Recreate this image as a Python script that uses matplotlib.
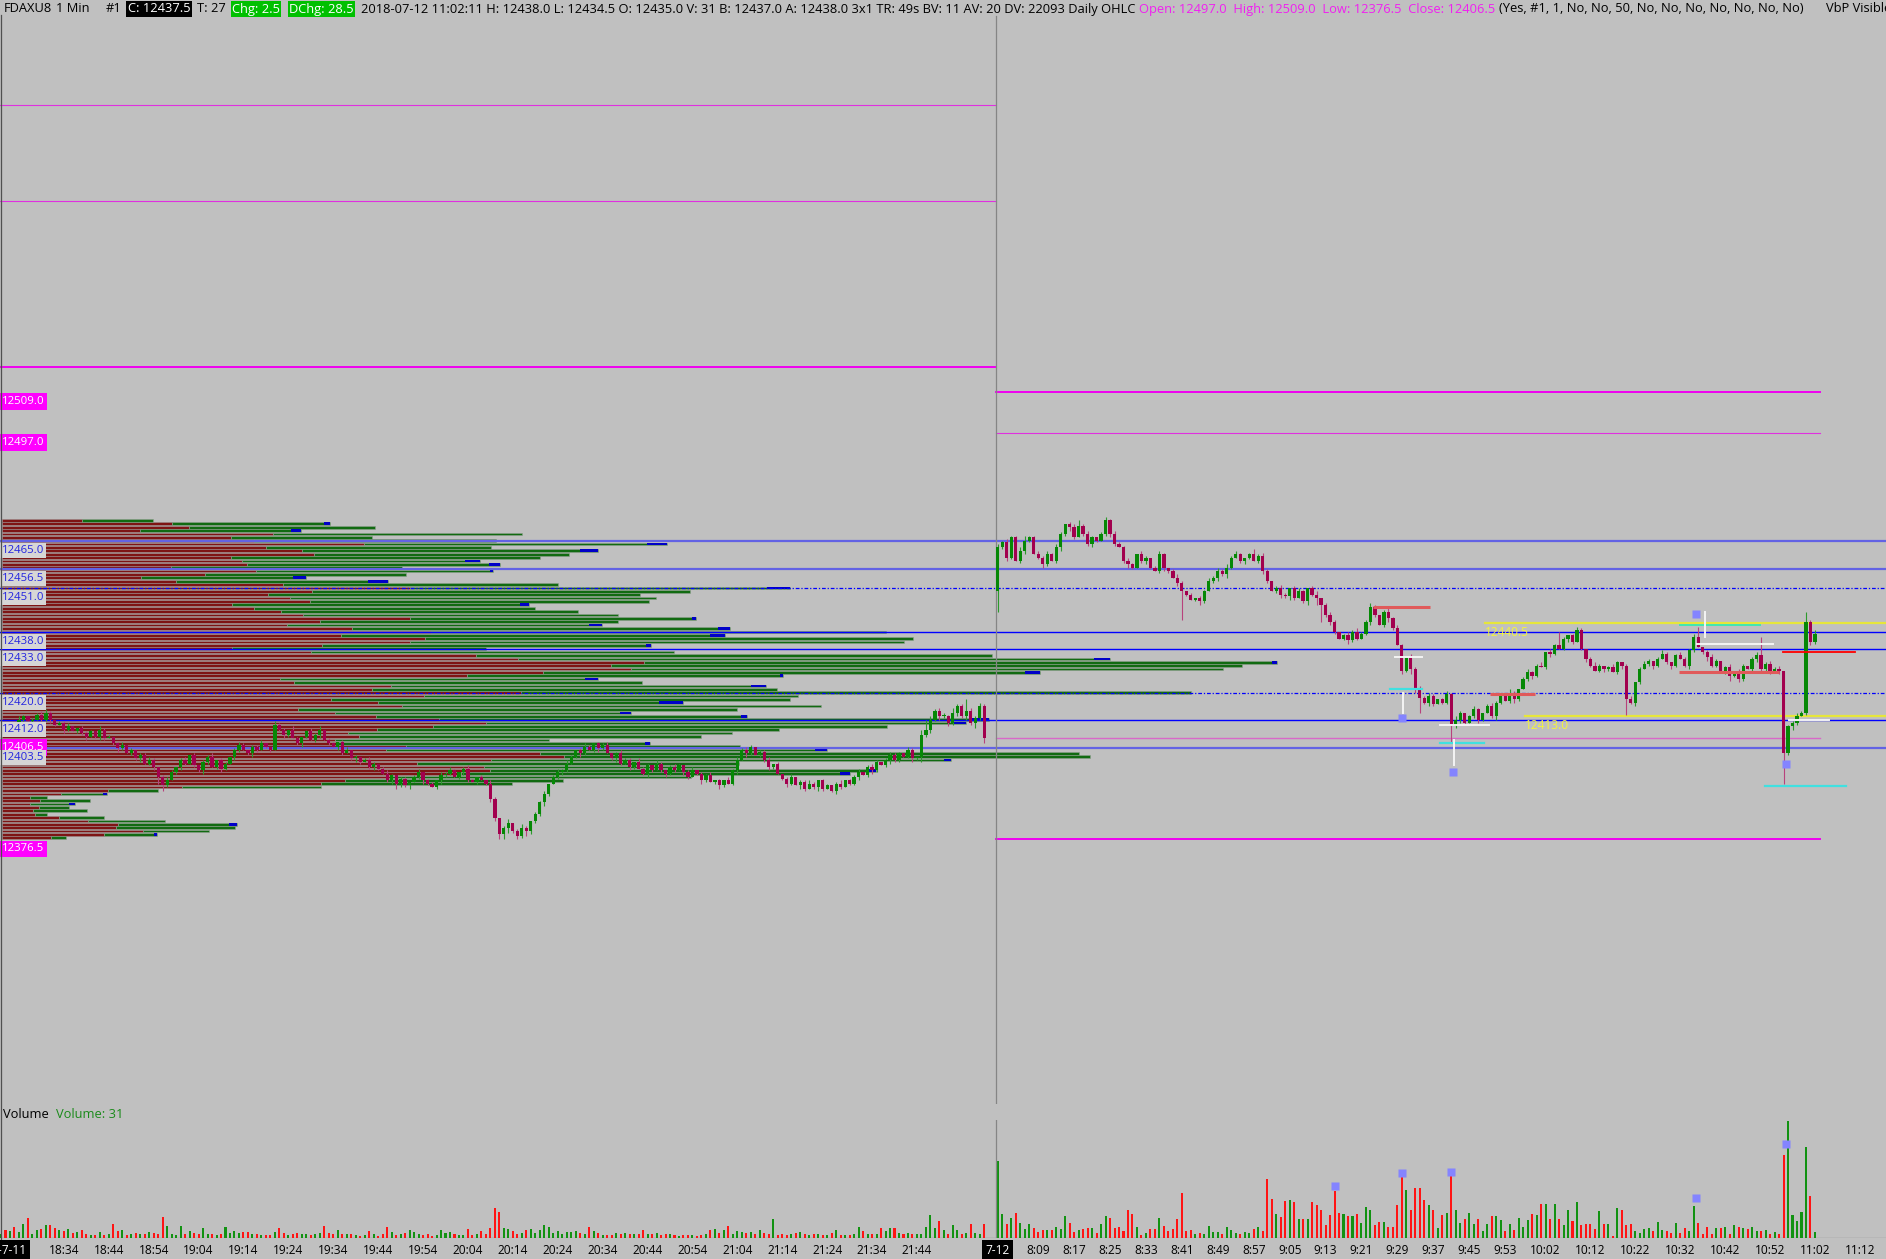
import matplotlib
matplotlib.use('Agg')
import matplotlib.pyplot as plt
import matplotlib.transforms as mtransforms
from matplotlib.lines import Line2D
import numpy as np

plt.rcParams['font.family'] = ['Open Sans', 'DejaVu Sans']

#=============================================
#   1. data

# prior session 7-11, one candle per minute from 18:20
left_open0 = 12409.0
left_close = [
    12410, 12409.5, 12411, 12410, 12412, 12413, 12411.5, 12412, 12413.5, 12412,
    12414, 12412, 12410.5, 12411, 12409, 12410, 12408.5, 12409.5, 12408, 12407,
    12408.5, 12407, 12409, 12406.5, 12407, 12405, 12403.5, 12404.5, 12402, 12403,
    12400.5, 12401.5, 12399, 12400, 12398, 12395, 12392.5, 12394, 12396.5, 12398,
    12400, 12399, 12401.5, 12398.5, 12397, 12399.5, 12401, 12398, 12400, 12397.5,
    12399, 12401, 12403, 12404.5, 12403, 12402, 12404, 12403, 12405, 12404,
    12403, 12410.5, 12409, 12407.5, 12409, 12406.5, 12405, 12407, 12408.5, 12406,
    12407.5, 12409, 12406, 12405, 12404, 12405.5, 12402, 12403, 12400.5, 12401,
    12399.5, 12400, 12398, 12399, 12397.5, 12396, 12394, 12395.5, 12393, 12394.5,
    12392.5, 12393.5, 12395, 12396.5, 12394, 12393, 12392, 12394, 12395.5, 12396,
    12397, 12395, 12396.5, 12397.5, 12394, 12393.5, 12395, 12394, 12393, 12388.5,
    12383, 12378, 12380, 12381.5, 12379, 12377.5, 12380, 12379, 12382, 12384,
    12387.5, 12390, 12393, 12395, 12396.5, 12397, 12399, 12401, 12403, 12402,
    12404, 12403, 12405, 12403.5, 12404.5, 12402, 12400.5, 12402, 12399, 12400,
    12398, 12399.5, 12397.5, 12396, 12398.5, 12397, 12399, 12397, 12396, 12398,
    12397, 12398.5, 12396.5, 12395, 12397, 12396, 12394, 12395.5, 12393.5, 12394,
    12392.5, 12394, 12393, 12397, 12400, 12403, 12402, 12404, 12401.5, 12402.5,
    12400, 12398, 12399, 12396, 12394.5, 12393, 12395, 12392.5, 12393.5, 12391.5,
    12393, 12392, 12394, 12391.5, 12392.5, 12391, 12393, 12392, 12394, 12393,
    12395, 12396.5, 12395.5, 12398, 12397, 12399.5, 12398.5, 12400, 12401.5, 12400,
    12402, 12401, 12403, 12400.5, 12401, 12407.5, 12409, 12412, 12414.5, 12413,
    12413, 12411, 12414, 12416, 12413, 12414.5, 12411, 12412.5, 12416, 12406.5,
]
# wick lengths in half points, one char per candle (base 36)
left_up = ("1201210112 2101120011 1021101201 0112101210 1201011201 1012101120 "
           "0211021012 1201101201 0121012101 1012011021 2101210102 1012012101 "
           "1201212101 2101120121 1021102101 2101201120 1021212101 1201012011 "
           "2101101201 1201210121 1021036212 2131172121")
left_dn = ("1021012101 1210210112 0121012101 1201243101 2101121012 1021012101 "
           "1012101210 1201021012 1012101232 1201210121 1012101012 2333121321 "
           "1210121012 1012101210 2101210121 1021012101 2101202101 1210121021 "
           "0121012101 1201210121 1012131212 1212121313")

# session 7-12, one candle per minute from 8:00
right_open0 = 12450.0
right_close = [
    12463, 12464.5, 12460, 12466, 12459, 12462, 12465, 12466, 12461, 12460,
    12458, 12461, 12459, 12463, 12467, 12470, 12469, 12466, 12469.5, 12467,
    12464, 12466, 12465, 12467, 12471, 12467, 12464, 12463, 12459, 12458,
    12457, 12461, 12459, 12460, 12457, 12456, 12461, 12457, 12456, 12454,
    12452.5, 12450, 12449, 12447.5, 12448, 12447, 12450, 12453, 12454, 12456,
    12455, 12457, 12460, 12461, 12459, 12460, 12461, 12459, 12460.5, 12456,
    12453, 12450, 12451, 12449, 12448.5, 12451, 12448, 12450, 12447, 12451,
    12449, 12448, 12446, 12443, 12441, 12438, 12436, 12437, 12435.5, 12438,
    12436, 12437.5, 12441, 12445.5, 12443, 12440, 12444, 12442, 12439, 12434,
    12426.5, 12430.5, 12427, 12421, 12418.5, 12417, 12419, 12416.5, 12418, 12417,
    12419.5, 12410, 12412, 12414, 12411, 12413, 12415, 12412, 12414, 12416,
    12413, 12417, 12419, 12417.5, 12420, 12418, 12421, 12424, 12426, 12425,
    12428, 12427.5, 12432, 12431.5, 12434, 12433, 12436, 12437, 12435, 12438.5,
    12433, 12430, 12428, 12426.5, 12428, 12427, 12427.5, 12426, 12429, 12428,
    12418, 12417, 12423, 12427, 12428.5, 12429.5, 12428, 12430, 12431.5, 12429,
    12428, 12431, 12430, 12428, 12432.5, 12436.5, 12433.5, 12432, 12430.5, 12428,
    12429.5, 12426, 12427.5, 12425, 12426, 12424, 12428, 12427, 12430, 12431,
    12427, 12428.5, 12426, 12427, 12426.5, 12402, 12410, 12411, 12413, 12414,
    12441, 12435, 12437.5,
]
right_up = ("2121123112 1212101231 2101212112 1021012101 2101011212 1212101312 "
            "1012101210 1201210121 2112101212 1021212101 2121012101 2101210121 "
            "1202181012 1012101210 1201210121 0121126012 1012121012 b121201121 612")
right_dn = ("c121012101 2101212101 1210121012 1012101210 2h10121012 1210121012 "
            "1012121012 14a1210121 1012101210 2132912101 1912101210 1210121012 "
            "1012101210 1210121012 9121012101 2101210121 1013121012 12102i1210 121")

# volume per candle (panel units)
vol_left = [
    10, 22, 20, 33, 18, 40, 60, 12, 22, 25, 37, 37, 28, 22, 20, 27, 15, 18, 22, 10,
    8, 8, 18, 8, 12, 40, 20, 22, 8, 10, 15, 12, 10, 16, 14, 10, 62, 35, 10, 8,
    35, 10, 20, 15, 12, 30, 12, 10, 8, 10, 32, 15, 20, 15, 18, 18, 10, 12, 8, 8,
    8, 18, 30, 15, 8, 12, 15, 10, 10, 8, 10, 15, 35, 15, 10, 22, 12, 10, 12, 8,
    5, 8, 20, 10, 6, 12, 32, 18, 8, 10, 15, 22, 18, 12, 8, 10, 5, 8, 22, 15,
    18, 10, 8, 8, 27, 8, 10, 20, 10, 28, 90, 78, 28, 25, 20, 12, 15, 22, 25, 15,
    22, 38, 33, 15, 20, 12, 18, 18, 20, 15, 10, 32, 20, 15, 8, 8, 8, 15, 12, 15,
    12, 10, 12, 22, 10, 12, 15, 8, 10, 10, 8, 6, 8, 8, 8, 6, 8, 10, 22, 25,
    15, 22, 35, 12, 20, 18, 15, 18, 12, 22, 15, 12, 55, 8, 10, 8, 12, 15, 18, 10,
    8, 12, 10, 8, 8, 15, 22, 8, 8, 8, 12, 32, 20, 12, 10, 10, 30, 20, 28, 30,
    15, 12, 15, 10, 12, 12, 33, 68, 28, 50, 22, 12, 38, 22, 10, 15, 40, 15, 10, 42,
]
vol_right = [
    229, 72, 42, 58, 75, 45, 27, 42, 28, 17, 22, 22, 22, 32, 25, 64, 43, 17, 22, 25,
    30, 30, 14, 40, 64, 60, 30, 32, 20, 82, 70, 32, 8, 15, 27, 25, 60, 35, 20, 27,
    55, 135, 20, 22, 10, 15, 10, 34, 17, 17, 12, 32, 22, 14, 12, 17, 15, 25, 32, 20,
    175, 117, 72, 62, 110, 113, 107, 57, 55, 55, 108, 97, 82, 38, 67, 140, 75, 72, 65, 65,
    70, 45, 92, 82, 37, 48, 48, 32, 32, 97, 190, 142, 82, 148, 148, 112, 97, 82, 30, 67,
    75, 185, 82, 45, 57, 75, 42, 57, 20, 40, 65, 65, 52, 20, 40, 22, 60, 32, 52, 72,
    67, 100, 100, 57, 102, 57, 37, 82, 50, 107, 37, 40, 42, 27, 80, 42, 42, 5, 90, 82,
    37, 40, 20, 15, 25, 30, 20, 47, 22, 20, 15, 45, 15, 30, 20, 95, 45, 12, 32, 10,
    30, 30, 32, 10, 37, 32, 30, 27, 32, 20, 20, 22, 10, 17, 12, 249, 349, 67, 50, 77,
    272, 125, 17,
]
vol_sq_j = [75, 90, 101, 155.5, 175.5]
vol_sq_h = [155, 194, 197, 119, 281]

# volume profile of 7-11, one row per point from 12471 down to 12377
prof_price = np.arange(12471, 12376, -1)
prof_red = [
    80, 170, 187, 138, 271, 229, 252, 362, 264, 300, 312, 229, 240, 245, 169, 254, 203, 139, 174, 281,
    408, 310, 266, 288, 308, 230, 252, 279, 301, 408, 318, 285, 350, 429, 339, 423, 408, 320, 230, 309,
    474, 516, 642, 609, 629, 541, 465, 278, 292, 389, 370, 519, 422, 329, 376, 400, 296, 333, 374, 437,
    484, 431, 375, 346, 357, 333, 335, 404, 384, 538, 562, 489, 415, 482, 488, 459, 388, 343, 319, 180,
    106, 59, 28, 38, 28, 37, 31, 33, 57, 86, 116, 114, 141, 102, 49,
]
prof_total = [
    151, 328, 373, 299, 520, 370, 494, 665, 489, 596, 567, 538, 478, 498, 400, 491, 404, 304, 386, 556,
    788, 688, 638, 654, 647, 527, 533, 576, 616, 694, 616, 600, 728, 884, 723, 911, 902, 649, 484, 672,
    990, 1108, 1275, 1240, 1221, 1038, 781, 596, 640, 764, 775, 1189, 796, 788, 681, 819, 735, 629, 745, 987,
    964, 885, 777, 730, 699, 547, 648, 738, 825, 1077, 1088, 949, 737, 735, 874, 848, 689, 561, 510, 319,
    156, 105, 45, 88, 73, 67, 85, 45, 102, 163, 235, 233, 207, 155, 64,
]
prof_blue = [
    0, 6, 0, 10, 0, 0, 0, 20, 0, 18, 0, 0, 15, 11, 0, 3, 0, 13, 20, 0,
    23, 0, 0, 0, 0, 9, 0, 0, 0, 4, 0, 13, 12, 0, 15, 0, 0, 5, 0, 0,
    0, 16, 5, 0, 0, 15, 3, 13, 0, 15, 0, 0, 0, 0, 24, 0, 0, 11, 6, 19,
    13, 0, 0, 0, 0, 0, 5, 0, 12, 0, 0, 7, 0, 0, 8, 10, 0, 0, 0, 0,
    0, 4, 0, 0, 6, 0, 0, 0, 0, 0, 8, 0, 0, 3, 0,
]

# horizontal levels
lvl_thick = [12465.0, 12456.5, 12403.5]
lvl_thin = [12438.0, 12433.0, 12412.0]
lvl_dot = [12451.0, 12420.0]
prev_thin = [12594.0, 12565.5]
prev_thick = [12516.5]
day_thick = [12509.0, 12376.5]
day_thin = [12497.0]
day_close = 12406.5
yellow_lvls = [(108.5, 12440.5), (117.4, 12413.0)]
blue_labels = [12465.0, 12456.5, 12451.0, 12438.0, 12433.0, 12420.0, 12412.0, 12403.5]
mag_labels = [12509.0, 12497.0, 12406.5, 12376.5]

# marks on todays candles (bar offsets from 8:00)
red_segs = [(83.5, 96.2, 12445.5), (109.6, 119.6, 12419.5), (151.7, 174.0, 12426.0)]
red2_segs = [(174.9, 190.9, 12432.0)]
white_segs = [(88.4, 94.4, 12430.5), (98.4, 109.3, 12410.5), (155.7, 172.6, 12434.5), (176.2, 185.1, 12412.0)]
cyan_segs = [(87.3, 94.4, 12421.0), (98.4, 108.4, 12405.0), (170.9, 189.0, 12392.3)]
teal_segs = [(152.0, 169.8, 12440.0)]
white_vert = [(90.2, 12413.9, 12419.8), (101.5, 12398.6, 12406.0), (157.5, 12436.5, 12443.9)]
sq_j = [90.0, 101.3, 155.5, 175.5]
sq_p = [12412.4, 12396.6, 12443.3, 12398.8]

left_ticks = ['18:34', '18:44', '18:54', '19:04', '19:14', '19:24', '19:34', '19:44', '19:54', '20:04',
              '20:14', '20:24', '20:34', '20:44', '20:54', '21:04', '21:14', '21:24', '21:34', '21:44']
right_ticks = ['8:09', '8:17', '8:25', '8:33', '8:41', '8:49', '8:57', '9:05', '9:13', '9:21', '9:29',
               '9:37', '9:45', '9:53', '10:02', '10:12', '10:22', '10:32', '10:42', '10:52', '11:02', '11:12']


#=============================================
#   2. plot
#=============================================
W, H = 1886, 1259
BG = '#c0c0c0'
PXB = 4.49          # screen pixels per candle slot
R0 = 222            # slot of the 8:00 candle
SEP = 221.6
FS = 8.2            # price labels
FSH = 9.3           # header line
FST = 8.6           # time axis

def price_at(ypx):
    return 12465 - (ypx - 540.7) / 3.376

def wicks(s, n):
    w = [int(ch, 36) / 2.0 for ch in s.replace(' ', '')]
    w = (w + [0.5] * n)[:n]
    return np.array(w)

def ohlc(open0, closes, up, dn):
    c = np.array(closes, dtype=float)
    o = np.concatenate([[open0], c[:-1]])
    hi = np.maximum(o, c) + wicks(up, len(c))
    lo = np.minimum(o, c) - wicks(dn, len(c))
    return o, hi, lo, c

lo_, lh_, ll_, lc_ = ohlc(left_open0, left_close, left_up, left_dn)
ro_, rh_, rl_, rc_ = ohlc(right_open0, right_close, right_up, right_dn)
t_left = np.arange(len(lc_))
t_right = R0 + np.arange(len(rc_))

fig = plt.figure(figsize=(W / 100, H / 100), dpi=100, facecolor=BG)
renderer = fig.canvas.get_renderer()

main_bot = 1104.0
ax_prof = fig.add_axes([0, 1 - main_bot / H, 1, main_bot / H])
ax_prof.set_facecolor(BG)
ax_prof.set_xlim(0, W)
ax_prof.set_ylim(price_at(main_bot), price_at(0))
ax = ax_prof.twiny()
ax.set_xlim(-1 / PXB, (W - 1) / PXB)
ax.patch.set_visible(False)
for a in (ax_prof, ax):
    a.set_axis_off()

# volume profile
red_w = np.array(prof_red, dtype=float)
tot_w = np.array(prof_total, dtype=float)
blu_w = np.array(prof_blue, dtype=float)
ax_prof.barh(prof_price, red_w, left=2, height=0.8, color='#7e1414', edgecolor='#9c8c8c', linewidth=0.4)
ax_prof.barh(prof_price, tot_w - red_w, left=2 + red_w, height=0.8, color='#116a11',
             edgecolor='#8ea08e', linewidth=0.4)
m = blu_w > 0
ax_prof.barh(prof_price[m], blu_w[m], left=2 + tot_w[m] - blu_w[m], height=0.8, color='#0000c8', linewidth=0)

# levels
x_end = (W - 1) / PXB + 1
for p in lvl_thick:
    ax.plot([-1, x_end], [p, p], color='#6262e4', lw=1.6, zorder=2)
for p in lvl_thin:
    ax.plot([-1, x_end], [p, p], color='#0000ff', lw=1.0, zorder=2)
for p in lvl_dot:
    ax.plot([-1, x_end], [p, p], color='#0000ff', lw=0.9, ls=(0, (3, 1.5, 1, 1.5)), zorder=2)
for p in prev_thin:
    ax.plot([-1, SEP], [p, p], color='#e030e0', lw=0.8, zorder=2)
for p in prev_thick:
    ax.plot([-1, SEP], [p, p], color='#f000f0', lw=1.4, zorder=2)
day_end = R0 + 183.2
for p in day_thick:
    ax.plot([SEP, day_end], [p, p], color='#f000f0', lw=1.4, zorder=2)
for p in day_thin:
    ax.plot([SEP, day_end], [p, p], color='#e030e0', lw=0.8, zorder=2)
ax.plot([SEP, day_end], [day_close, day_close], color='#d868c8', lw=1.0, zorder=2)

# separator between sessions
ax.plot([SEP, SEP], [price_at(16), price_at(main_bot)], color='#858585', lw=0.9, zorder=2)

# yellow levels with text
for j0, p in yellow_lvls:
    ax.plot([R0 + j0, x_end], [p, p], color='#e6e63a', lw=1.6, zorder=2)
    ax.text(R0 + j0, p - 0.7, f'{p:.1f}', color='#f4f43c', fontsize=8.6, va='top', ha='left', zorder=4)

# candles
def draw_candles(t, o, hi, lo, c):
    up = c >= o
    ax.vlines(t[up], lo[up], hi[up], colors='#2c9a2c', lw=0.8, zorder=3)
    ax.vlines(t[~up], lo[~up], hi[~up], colors='#b8427c', lw=0.8, zorder=3)
    body = np.maximum(np.abs(c - o), 0.35)
    bot = np.minimum(o, c)
    ax.bar(t[up], body[up], bottom=bot[up], width=0.72, color='#068806', linewidth=0, zorder=3)
    ax.bar(t[~up], body[~up], bottom=bot[~up], width=0.72, color='#a2004e', linewidth=0, zorder=3)

draw_candles(t_left, lo_, lh_, ll_, lc_)
draw_candles(t_right, ro_, rh_, rl_, rc_)

# marks on the 7-12 session
for a, b, p in red_segs:
    ax.plot([R0 + a, R0 + b], [p, p], color='#e05a5a', lw=2.2, zorder=4, solid_capstyle='butt')
for a, b, p in red2_segs:
    ax.plot([R0 + a, R0 + b], [p, p], color='#ff0000', lw=1.3, zorder=4)
for a, b, p in white_segs:
    ax.plot([R0 + a, R0 + b], [p, p], color='#f4f4f4', lw=1.4, zorder=4)
for a, b, p in cyan_segs:
    ax.plot([R0 + a, R0 + b], [p, p], color='#40e0e0', lw=1.6, zorder=4)
for a, b, p in teal_segs:
    ax.plot([R0 + a, R0 + b], [p, p], color='#40e8b0', lw=1.4, zorder=4)
for j, p0, p1 in white_vert:
    ax.plot([R0 + j, R0 + j], [p0, p1], color='#f4f4f4', lw=1.4, zorder=4)
ax.plot(R0 + np.array(sq_j), sq_p, ls='none', marker='s', ms=6, color='#8484ff', mec='none', zorder=5)

# price labels at the left edge
lab_tr = mtransforms.offset_copy(ax.transData, fig=fig, x=1, y=-4, units='dots')
for p in mag_labels:
    ax.text(-0.1, p, f'{p:.1f}', transform=lab_tr, fontsize=FS, color='white', va='top', ha='left',
            bbox=dict(boxstyle='square,pad=0.25', fc='#ff00ff', ec='none'), zorder=10)
for p in blue_labels:
    ax.text(-0.1, p, f'{p:.1f}', transform=lab_tr, fontsize=FS, color='#2424e0', va='top', ha='left',
            bbox=dict(boxstyle='square,pad=0.18', fc='#d6d6d6', ec='none'), zorder=11)

#========================================
# volume panel
v_base, v_top = 1237.7, 1120.0
ax_v = fig.add_axes([0, 1 - v_base / H, 1, (v_base - v_top) / H])
ax_v.set_facecolor(BG)
ax_v.set_xlim(ax.get_xlim())
ax_v.set_ylim(0, (v_base - v_top) * 3)
ax_v.set_axis_off()
vl = np.array(vol_left[:len(t_left)], dtype=float)
vr = np.array(vol_right[:len(t_right)], dtype=float)
upl = (lc_ >= lo_)[:len(vl)]
upr = (rc_ >= ro_)[:len(vr)]
tl = t_left[:len(vl)]
tr = t_right[:len(vr)]
ax_v.bar(tl[upl], vl[upl], width=0.45, color='#129212', linewidth=0)
ax_v.bar(tl[~upl], vl[~upl], width=0.45, color='#ff1414', linewidth=0)
ax_v.bar(tr[upr], vr[upr], width=0.45, color='#129212', linewidth=0)
ax_v.bar(tr[~upr], vr[~upr], width=0.45, color='#ff1414', linewidth=0)
ax_v.axhline(0.6, color='#7a7a7a', lw=0.9, zorder=0)
ax_v.axvline(SEP, color='#858585', lw=0.9)
ax_v.plot(R0 + np.array(vol_sq_j), vol_sq_h, ls='none', marker='s', ms=6, color='#8484ff', mec='none')

#========================================
# texts
def ftext(xpx, ypx, s, **kw):
    kw.setdefault('fontsize', FSH)
    kw.setdefault('va', 'center')
    return fig.text(xpx / W, 1 - ypx / H, s, **kw)

# header: pieces at their screen x, pushed right if the previous one runs long
hy = 9
blk = dict(boxstyle='square,pad=0.1', fc='black', ec='none')
grn = dict(boxstyle='square,pad=0.1', fc='#00c000', ec='none')
header = [
    (2, 'FDAXU8', {}),
    (45, '1 Min', {}),
    (106, '#1', {}),
    (125, 'C: 12437.5', dict(color='white', bbox=blk)),
    (190, 'T: 27', {}),
    (222, 'Chg: 2.5', dict(color='white', bbox=grn)),
    (275, 'DChg: 28.5', dict(color='white', bbox=grn)),
    (343, '2018-07-12 11:02:11 H: 12438.0 L: 12434.5 O: 12435.0 V: 31 B: 12437.0 A: 12438.0 '
          '3x1 TR: 49s BV: 11 AV: 20 DV: 22093 Daily OHLC', {}),
    (1131, 'Open: 12497.0  High: 12509.0  Low: 12376.5  Close: 12406.5', dict(color='#f020f0')),
    (1498, '(Yes, #1, 1, No, No, 50, No, No, No, No, No, No, No)', {}),
    (1826, 'VbP Visible', {}),
]
cur = 0
for x0, s, kw in header:
    gap = 6 if 'bbox' in kw else 4
    t = ftext(max(x0, cur + gap), hy, s, **kw)
    cur = t.get_window_extent(renderer).x1 + (3 if 'bbox' in kw else 0)

ftext(3, 1114, 'Volume')
ftext(56, 1114, 'Volume: 31', color='#1a8a1a')

fig.add_artist(Line2D([0.6 / W, 0.6 / W], [0, 1 - 15 / H], color='#505050', lw=0.9))

# time axis
by = 1250
ftext(-9, by, '8-7-11', color='white', fontsize=FST,
      bbox=dict(boxstyle='square,pad=0.3', fc='black', ec='none'))
ftext(1 + PXB * R0, by, '7-12', color='white', ha='center', fontsize=FST,
      bbox=dict(boxstyle='square,pad=0.3', fc='black', ec='none'))
for s in left_ticks:
    hh, mm = map(int, s.split(':'))
    t = (hh - 18) * 60 + mm - 20
    ftext(1 + PXB * t, by, s, ha='center', fontsize=FST)
for s in right_ticks:
    hh, mm = map(int, s.split(':'))
    t = R0 + (hh - 8) * 60 + mm
    ftext(1 + PXB * t, by, s, ha='center', fontsize=FST)

plt.savefig('out.png', dpi=100, facecolor=BG)
